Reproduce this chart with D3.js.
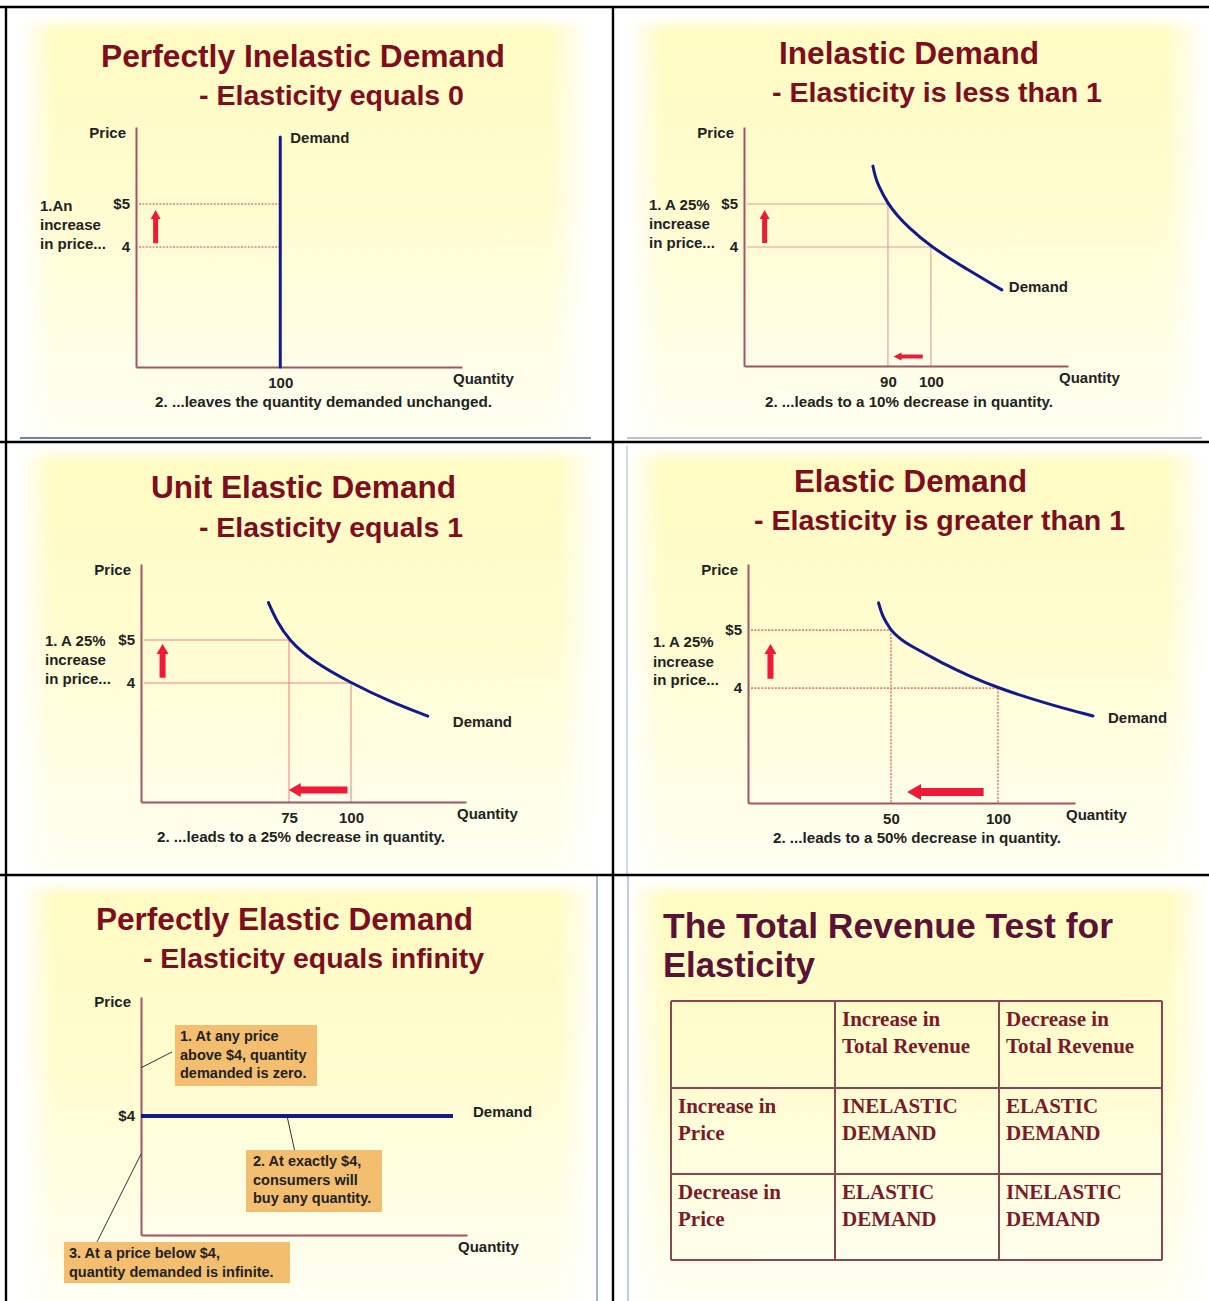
<!DOCTYPE html>
<html>
<head>
<meta charset="utf-8">
<script src="https://cdn.jsdelivr.net/npm/d3@7"></script>
<style>
  body { margin: 0; background: #fff; }
  svg { display: block; }
</style>
</head>
<body>
<script>
// ---------- data ----------
// 1. perfectly inelastic
const pinQtyTicks = [100];
const pinPriceTicks = [4, 5];
const pinQtyDomain = [0, 226];
const pinPriceDomain = [1.21, 6.79];
const pinDemand = [[100, 1.21], [100, 6.56]];
const pinGuides = [[100, 5], [100, 4]];
const pinUpArrow = [13.6, 4.09, 4.86];

// 2. inelastic
const ineQtyTicks = [90, 100];
const inePriceTicks = [4, 5];
const ineQtyDomain = [56.5, 131.9];
const inePriceDomain = [1.23, 6.79];
const ineDemand = [[86.5, 5.88], [87.0, 5.65], [87.7, 5.44], [90, 5], [92.1, 4.74], [94.6, 4.47],
                   [100, 4], [107.9, 3.51], [116.5, 3.0]];
const ineGuides = [[90, 5], [100, 4]];
const ineUpArrow = [61.3, 4.09, 4.86];
const ineLeftArrow = [98.1, 91.3, 1.45];

// 3. unit elastic
const unitQtyTicks = [75, 100];
const unitPriceTicks = [4, 5];
const unitQtyDomain = [15.3, 146.4];
const unitPriceDomain = [1.23, 6.77];
const unitDemand = [[66.7, 5.87], [70.2, 5.42], [75, 5], [83.9, 4.53], [100, 4], [115.3, 3.58], [131, 3.23]];
const unitGuides = [[75, 5], [100, 4]];
const unitUpArrow = [24.0, 4.12, 4.91];
const unitLeftArrow = [98.6, 74.9, 1.51];

// 4. elastic
const elaQtyTicks = [50, 100];
const elaPriceTicks = [4, 5];
const elaQtyDomain = [-16.8, 136];
const elaPriceDomain = [2.02, 6.14];
const elaDemand = [[44.2, 5.47], [45.3, 5.33], [46.7, 5.2], [48.4, 5.1], [50, 5], [52.8, 4.9],
                   [56.5, 4.79], [61.2, 4.69], [67.3, 4.57], [75.2, 4.41], [84.6, 4.24],
                   [100, 4], [123.8, 3.72], [144.4, 3.52]];
const elaGuides = [[50, 5], [100, 4]];
const elaUpArrow = [-6.3, 4.16, 4.76];
const elaLeftArrow = [93.3, 57.5, 2.21];

// 5. perfectly elastic
const pelPriceTicks = [4];
const pelQtyDomain = [0, 100];
const pelPriceDomain = [0, 8];
const pelDemand = [[0, 4], [95.7, 4]];
const pelNotes = [
  ["1. At any price", "above $4, quantity", "demanded is zero."],
  ["2. At exactly $4,", "consumers will", "buy any quantity."],
  ["3. At a price below $4,", "quantity demanded is infinite."]
];
const pelNoteTargets = [[0, 5.62], [44.8, 4], [0, 2.72]];

// 6. total revenue test
const tableHeader = [[], ["Increase in", "Total Revenue"], ["Decrease in", "Total Revenue"]];
const tableRowLabels = [["Increase in", "Price"], ["Decrease in", "Price"]];
const tableCells = [
  [["INELASTIC", "DEMAND"], ["ELASTIC", "DEMAND"]],
  [["ELASTIC", "DEMAND"], ["INELASTIC", "DEMAND"]]
];

// ---------- drawing ----------
const W = 1209, H = 1301;
const sans = "'Liberation Sans', Arial, sans-serif";
const serif = "'Liberation Serif', 'Times New Roman', serif";
const titleRed = "#7e0d1e";
const axisCol = "#a25566";
const curveBlue = "#121a8c";
const arrowRed = "#ee1a38";
const ink = "#222";

const svg = d3.select("body").append("svg")
  .attr("width", W).attr("height", H)
  .attr("font-family", sans);

const defs = svg.append("defs");
const gv = defs.append("linearGradient").attr("id", "bgV").attr("x1", 0).attr("x2", 0).attr("y1", 0).attr("y2", 1);
gv.append("stop").attr("offset", "0%").attr("stop-color", "#fffbc2");
gv.append("stop").attr("offset", "45%").attr("stop-color", "#fffcd0");
gv.append("stop").attr("offset", "100%").attr("stop-color", "#fffff3");
const gh = defs.append("linearGradient").attr("id", "bgH");
[[0, 1], [6, 0], [93, 0], [100, 1]].forEach(([o, a]) =>
  gh.append("stop").attr("offset", o + "%").attr("stop-color", "#fff").attr("stop-opacity", a));
const gt = defs.append("linearGradient").attr("id", "bgT").attr("x1", 0).attr("x2", 0).attr("y1", 0).attr("y2", 1);
[[0, 1], [4, 0], [100, 0]].forEach(([o, a]) =>
  gt.append("stop").attr("offset", o + "%").attr("stop-color", "#fff").attr("stop-opacity", a));

// slide backgrounds
const slides = [[20, 15, 570, 423], [628, 15, 577, 423], [18, 446, 580, 426],
                [627, 446, 578, 426], [20, 880, 577, 421], [628, 880, 581, 421]];
slides.forEach(([x, y, w, h]) => {
  ["bgV", "bgH", "bgT"].forEach(id =>
    svg.append("rect").attr("x", x).attr("y", y).attr("width", w).attr("height", h)
      .attr("fill", `url(#${id})`));
});
// slide edge lines
svg.append("line").attr("x1", 20).attr("x2", 591).attr("y1", 438).attr("y2", 438).attr("stroke", "#6d84b6").attr("stroke-width", 2);
svg.append("line").attr("x1", 627).attr("x2", 1202).attr("y1", 438).attr("y2", 438).attr("stroke", "#bcc0cc").attr("stroke-width", 2);
svg.append("line").attr("x1", 627).attr("x2", 627).attr("y1", 446).attr("y2", 874).attr("stroke", "#d0d8ea").attr("stroke-width", 2);
svg.append("line").attr("x1", 597).attr("x2", 597).attr("y1", 876).attr("y2", H).attr("stroke", "#a9b5ca").attr("stroke-width", 2);
svg.append("line").attr("x1", 628).attr("x2", 628).attr("y1", 876).attr("y2", H).attr("stroke", "#c4ccdc").attr("stroke-width", 2);

function text(g, x, y, s, o = {}) {
  const t = g.append("text").attr("x", x).attr("y", y).text(s)
    .attr("font-size", o.size || 15).attr("font-weight", o.weight || "bold")
    .attr("fill", o.fill || ink).attr("text-anchor", o.anchor || "start")
    .attr("font-family", o.family || sans);
  if (o.width) t.attr("textLength", o.width).attr("lengthAdjust", "spacingAndGlyphs");
  return t;
}

function arrow(g, x1, y1, x2, y2, shaft, headW, headL) {
  const len = Math.hypot(x2 - x1, y2 - y1), ux = (x2 - x1) / len, uy = (y2 - y1) / len;
  const nx = -uy, ny = ux, bx = x2 - ux * headL, by = y2 - uy * headL;
  const p = [[x1 + nx * shaft / 2, y1 + ny * shaft / 2], [bx + nx * shaft / 2, by + ny * shaft / 2],
             [bx + nx * headW / 2, by + ny * headW / 2], [x2, y2],
             [bx - nx * headW / 2, by - ny * headW / 2], [bx - nx * shaft / 2, by - ny * shaft / 2],
             [x1 - nx * shaft / 2, y1 - ny * shaft / 2]];
  g.append("path").attr("d", "M" + p.join("L") + "Z").attr("fill", arrowRed);
}

function styleAxis(sel) {
  sel.select(".domain").attr("stroke", axisCol).attr("stroke-width", 2);
  sel.selectAll("text").attr("font-size", 15).attr("font-weight", "bold")
    .attr("font-family", sans).attr("fill", ink);
}

function titles(g, c) {
  text(g, c.tx, c.ty, c.title, { size: 31.5, fill: titleRed, width: c.tw });
  text(g, c.sx, c.sy, c.sub, { size: 28.5, fill: titleRed, width: c.sw });
}

function demandPanel(c) {
  const g = svg.append("g");
  const x = d3.scaleLinear().domain(c.qDomain).range(c.xRange);
  const y = d3.scaleLinear().domain(c.pDomain).range(c.yRange);
  titles(g, c);

  // guide lines to the demand curve
  c.guides.forEach(([q, p]) => {
    const lines = [g.append("line").attr("x1", x(c.qDomain[0]) + 3).attr("x2", x(q))
      .attr("y1", y(p)).attr("y2", y(p))];
    if (c.vGuides) lines.push(g.append("line").attr("x1", x(q)).attr("x2", x(q))
      .attr("y1", y(p)).attr("y2", y(c.pDomain[0])));
    lines.forEach(s => s.attr("stroke", c.guideCol).attr("stroke-width", c.dotted ? 1.6 : 1.1)
      .attr("stroke-dasharray", c.dotted ? "2,1.4" : null));
  });

  g.append("g").attr("transform", `translate(0,${c.yRange[0]})`)
    .call(d3.axisBottom(x).tickValues(c.qTicks).tickSize(0).tickSizeOuter(0).tickPadding(10).tickFormat(d3.format("d")))
    .call(styleAxis);
  g.append("g").attr("transform", `translate(${c.xRange[0]},0)`)
    .call(d3.axisLeft(y).tickValues(c.pTicks).tickSize(0).tickSizeOuter(0).tickPadding(6)
      .tickFormat(d => d === 5 ? "$5" : String(d)))
    .call(styleAxis);

  const line = d3.line().x(d => x(d[0])).y(d => y(d[1])).curve(c.curve || d3.curveBasis);
  g.append("path").attr("d", line(c.demand)).attr("fill", "none")
    .attr("stroke", curveBlue).attr("stroke-width", c.curveW || 3).attr("stroke-linecap", "round");

  const u = c.upArrow;
  arrow(g, x(u[0]), y(u[1]), x(u[0]), y(u[2]), c.upSize[0], c.upSize[1], c.upSize[2]);
  if (c.leftArrow) {
    const a = c.leftArrow;
    arrow(g, x(a[0]), y(a[2]), x(a[1]), y(a[2]), c.leftSize[0], c.leftSize[1], c.leftSize[2]);
  }

  const end = c.demand[c.demand.length - 1];
  text(g, x(end[0]) + c.demandLbl[0], y(end[1]) + c.demandLbl[1], "Demand");
  text(g, c.xRange[1] - 9, c.yRange[0] + 17, "Quantity");
  text(g, c.xRange[0] - 10, c.yRange[1] + 11, "Price", { anchor: "end" });
  c.note.forEach((s, i) => text(g, c.noteX, c.noteY[i], s));
  text(g, c.capX, c.capY, c.caption, { width: c.capW });
}

demandPanel({
  title: "Perfectly Inelastic  Demand", tx: 101, ty: 67, tw: 404,
  sub: "- Elasticity equals 0", sx: 199, sy: 105, sw: 265,
  qDomain: pinQtyDomain, pDomain: pinPriceDomain, xRange: [136, 462], yRange: [367, 127],
  qTicks: pinQtyTicks, pTicks: pinPriceTicks, demand: pinDemand, guides: pinGuides,
  vGuides: false, dotted: true, guideCol: "#f07a7a", curve: d3.curveLinear, curveW: 3,
  upArrow: pinUpArrow, upSize: [5, 10, 9], demandLbl: [10, 6],
  note: ["1.An", "increase", "in price..."], noteX: 40, noteY: [211, 230, 249],
  caption: "2. ...leaves the quantity demanded unchanged.", capX: 155, capY: 407, capW: 337
});
demandPanel({
  title: "Inelastic Demand", tx: 779, ty: 64, tw: 260,
  sub: "- Elasticity is less than 1", sx: 772, sy: 102, sw: 330,
  qDomain: ineQtyDomain, pDomain: inePriceDomain, xRange: [744, 1068], yRange: [366, 127],
  qTicks: ineQtyTicks, pTicks: inePriceTicks, demand: ineDemand, guides: ineGuides,
  vGuides: true, dotted: false, guideCol: "#e79a9a",
  upArrow: ineUpArrow, upSize: [5, 10, 9], leftArrow: ineLeftArrow, leftSize: [4, 8, 8],
  demandLbl: [7, 2],
  note: ["1. A 25%", "increase", "in price..."], noteX: 649, noteY: [210, 229, 248],
  caption: "2. ...leads to a 10% decrease in quantity.", capX: 765, capY: 407, capW: 288
});
demandPanel({
  title: "Unit Elastic Demand", tx: 151, ty: 498, tw: 305,
  sub: "- Elasticity equals 1", sx: 199, sy: 537, sw: 264,
  qDomain: unitQtyDomain, pDomain: unitPriceDomain, xRange: [141, 466], yRange: [802, 564],
  qTicks: unitQtyTicks, pTicks: unitPriceTicks, demand: unitDemand, guides: unitGuides,
  vGuides: true, dotted: false, guideCol: "#ef8686",
  upArrow: unitUpArrow, upSize: [6, 12, 10], leftArrow: unitLeftArrow, leftSize: [7, 14, 12],
  demandLbl: [25, 11],
  note: ["1. A 25%", "increase", "in price..."], noteX: 45, noteY: [646, 665, 684],
  caption: "2. ...leads to a 25% decrease in quantity.", capX: 157, capY: 842, capW: 288
});
demandPanel({
  title: "Elastic Demand", tx: 794, ty: 492, tw: 233,
  sub: "- Elasticity is greater than 1", sx: 754, sy: 530, sw: 371,
  qDomain: elaQtyDomain, pDomain: elaPriceDomain, xRange: [748, 1075], yRange: [803, 564],
  qTicks: elaQtyTicks, pTicks: elaPriceTicks, demand: elaDemand, guides: elaGuides,
  vGuides: true, dotted: true, guideCol: "#f07a7a",
  upArrow: elaUpArrow, upSize: [6, 12, 10], leftArrow: elaLeftArrow, leftSize: [8, 16, 14],
  demandLbl: [15, 7],
  note: ["1. A 25%", "increase", "in price..."], noteX: 653, noteY: [647, 667, 685],
  caption: "2. ...leads to a 50% decrease in quantity.", capX: 773, capY: 843, capW: 288
});

// ---------- 5. perfectly elastic ----------
(function () {
  const g = svg.append("g");
  const xR = [141, 467], yR = [1235, 997];
  const x = d3.scaleLinear().domain(pelQtyDomain).range(xR);
  const y = d3.scaleLinear().domain(pelPriceDomain).range(yR);
  titles(g, { title: "Perfectly Elastic Demand", tx: 96, ty: 930, tw: 377,
              sub: "- Elasticity equals infinity", sx: 143, sy: 968, sw: 341 });

  g.append("g").attr("transform", `translate(0,${yR[0]})`)
    .call(d3.axisBottom(x).tickValues([]).tickSize(0).tickSizeOuter(0)).call(styleAxis);
  g.append("g").attr("transform", `translate(${xR[0]},0)`)
    .call(d3.axisLeft(y).tickValues(pelPriceTicks).tickSize(0).tickSizeOuter(0).tickPadding(6)
      .tickFormat(d => "$" + d))
    .call(styleAxis);

  const boxes = [[175, 1025, 142, 61, 5], [246, 1150, 136, 62, 7], [64, 1242, 226, 41, 5]];
  const leaderFrom = [[172, 1052], [294.5, 1150], [97, 1242]];
  pelNoteTargets.forEach(([q, p], i) => {
    g.append("line").attr("x1", leaderFrom[i][0]).attr("y1", leaderFrom[i][1])
      .attr("x2", x(q)).attr("y2", y(p)).attr("stroke", "#333").attr("stroke-width", 1);
  });

  g.append("path").attr("d", d3.line().x(d => x(d[0])).y(d => y(d[1]))(pelDemand))
    .attr("stroke", curveBlue).attr("stroke-width", 4);

  boxes.forEach(([bx, by, bw, bh, pad], i) => {
    g.append("rect").attr("x", bx).attr("y", by).attr("width", bw).attr("height", bh).attr("fill", "#f3be70");
    pelNotes[i].forEach((s, j) => text(g, bx + pad, by + 16 + j * 18.5, s, { size: 14.5 }));
  });

  text(g, 473, 1117, "Demand");
  text(g, xR[1] - 9, yR[0] + 17, "Quantity");
  text(g, xR[0] - 10, yR[1] + 10, "Price", { anchor: "end" });
})();

// ---------- 6. total revenue table ----------
(function () {
  const g = svg.append("g");
  const purple = "#5b1237";
  text(g, 663, 938, "The Total Revenue Test for", { size: 35, fill: purple, width: 450 });
  text(g, 663, 977, "Elasticity", { size: 35, fill: purple, width: 152 });

  const colX = [671, 835, 999, 1162], rowY = [1001, 1088, 1174, 1260];
  const cellInk = "#7a1a2a";
  const rows = [tableHeader].concat(tableRowLabels.map((lab, i) => [lab].concat(tableCells[i])));
  rows.forEach((row, r) => row.forEach((lines, c) => {
    lines.forEach((s, k) => text(g, colX[c] + 7, rowY[r] + 25 + k * 27, s,
      { family: serif, size: 21, fill: cellInk }));
  }));
  const stroke = "#8c4652";
  colX.forEach(cx => g.append("line").attr("x1", cx).attr("x2", cx).attr("y1", rowY[0]).attr("y2", rowY[3])
    .attr("stroke", stroke).attr("stroke-width", 2));
  rowY.forEach(ry => g.append("line").attr("x1", colX[0]).attr("x2", colX[3]).attr("y1", ry).attr("y2", ry)
    .attr("stroke", stroke).attr("stroke-width", 2));
})();

// ---------- grid frame ----------
const frame = "#000";
[[0, 7, W, 7], [6, 6, 6, H], [613, 6, 613, H], [0, 442, W, 442], [0, 875, W, 875]].forEach(([a, b, c, d]) =>
  svg.append("line").attr("x1", a).attr("y1", b).attr("x2", c).attr("y2", d)
    .attr("stroke", frame).attr("stroke-width", 2.4));
</script>
</body>
</html>
